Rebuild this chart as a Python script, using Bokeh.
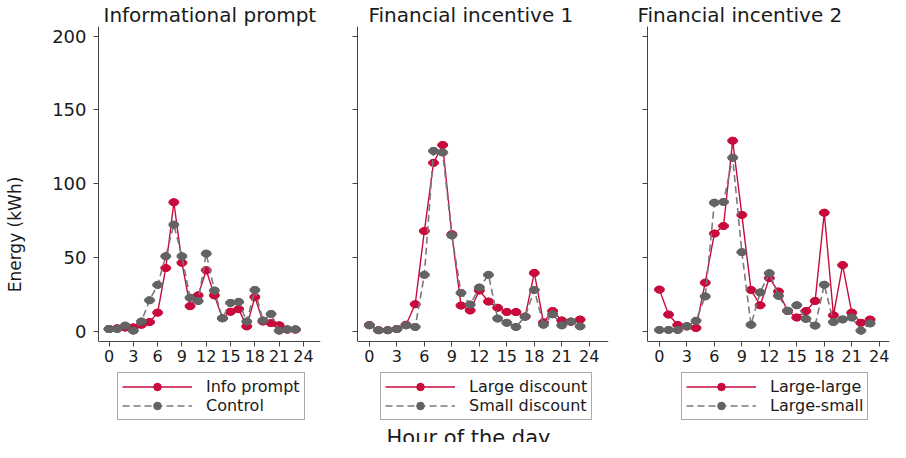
from bokeh.plotting import figure
from bokeh.layouts import row
from bokeh.models import Range1d, FixedTicker, Legend, LegendItem, Label
from bokeh.embed import file_html
from bokeh.resources import INLINE

# ---------------- data ----------------
hours = list(range(24))

info_prompt = [1.5, 2.0, 2.5, 2.6, 4.4, 6.2, 12.6, 42.8, 87.4, 46.4, 17.0, 24.3,
               41.3, 24.3, 8.8, 13.2, 15.0, 3.3, 23.2, 6.6, 5.5, 4.0, 1.1, 1.1]
control = [1.5, 1.5, 3.8, 0.4, 6.6, 21.0, 31.4, 50.8, 72.2, 50.8, 22.7, 20.5,
           52.6, 27.6, 8.8, 19.2, 19.9, 6.6, 28.0, 7.3, 11.7, 0.4, 1.3, 1.3]

large_discount = [4.2, 0.7, 0.7, 1.5, 4.4, 18.3, 67.9, 114.1, 126.2, 65.7, 17.4, 14.1,
                  27.6, 20.1, 15.9, 13.0, 13.0, 9.9, 39.5, 6.0, 13.7, 7.3, 6.4, 7.9]
small_discount = [4.0, 0.7, 0.7, 1.5, 4.0, 2.9, 38.2, 122.2, 121.1, 64.9, 26.0, 18.1,
                  29.6, 38.2, 8.6, 5.7, 2.9, 9.9, 28.0, 4.4, 11.5, 4.0, 6.6, 3.3]

large_large = [28.2, 11.3, 4.2, 3.2, 2.2, 32.9, 66.2, 71.3, 129.1, 78.8, 28.0, 17.6,
               36.0, 26.9, 13.7, 9.3, 13.7, 20.5, 80.3, 10.8, 44.8, 12.6, 5.7, 7.9]
large_small = [0.9, 0.9, 0.9, 3.5, 7.1, 23.6, 87.1, 87.6, 117.6, 53.6, 4.4, 26.3,
               39.3, 24.0, 13.9, 17.6, 8.4, 3.8, 31.5, 6.2, 8.0, 9.3, 0.4, 5.3]

x_ticks = [0, 3, 6, 9, 12, 15, 18, 21, 24]
y_ticks = [0, 50, 100, 150, 200]
panel_titles = ["Informational prompt", "Financial incentive 1", "Financial incentive 2"]
series_names = [("Info prompt", "Control"),
                ("Large discount", "Small discount"),
                ("Large-large", "Large-small")]
y_title = "Energy (kWh)"
x_title = "Hour of the day"

# ---------------- style ----------------
FONT = "DejaVu Sans"
RED = "#c80a3c"
GREY = "#636363"
GREY_LINE = "#7a7a7a"
AXIS = "#444444"
TXT = "#1a1a1a"
HEIGHT = 442
Y_LOW, Y_HIGH = -75.4, 206.5   # lower part of the frame holds legend / x title
X_AXIS_AT = -7


def make_panel(title, s_a, s_b, names, width, bl, br, x_end, title_offset,
               legend_x, first):
    p = figure(width=width, height=HEIGHT,
               x_range=Range1d(-1.3, x_end), y_range=Range1d(Y_LOW, Y_HIGH),
               output_backend="svg", toolbar_location=None,
               min_border_left=bl, min_border_right=br,
               min_border_top=25, min_border_bottom=0)
    p.outline_line_color = None
    p.xgrid.grid_line_color = None
    p.ygrid.grid_line_color = None

    # title
    p.title.text = title
    p.title.align = "left"
    p.title.offset = title_offset
    p.title.standoff = 0
    p.title.text_font = FONT
    p.title.text_font_size = "20px"
    p.title.text_font_style = "normal"
    p.title.text_color = TXT

    # axes
    for ax in (p.xaxis[0], p.yaxis[0]):
        ax.axis_line_color = AXIS
        ax.axis_line_width = 1
        ax.major_tick_line_color = AXIS
        ax.major_tick_in = 0
        ax.major_tick_out = 5
        ax.minor_tick_line_color = None
        ax.major_label_text_font = FONT
        ax.major_label_text_color = TXT
    p.xaxis.ticker = FixedTicker(ticks=x_ticks)
    p.xaxis.fixed_location = X_AXIS_AT
    p.xaxis.major_label_text_font_size = "16px"
    p.xaxis.major_label_standoff = 3
    p.yaxis.ticker = FixedTicker(ticks=y_ticks)
    p.yaxis.bounds = (X_AXIS_AT, Y_HIGH)
    p.yaxis.major_label_text_font_size = "18px"
    p.yaxis.major_label_standoff = 7
    if first:
        p.yaxis.axis_label = y_title
        p.yaxis.axis_label_text_font = FONT
        p.yaxis.axis_label_text_font_size = "17px"
        p.yaxis.axis_label_text_font_style = "normal"
        p.yaxis.axis_label_text_color = TXT
        p.yaxis.axis_label_standoff = 24
    else:
        p.yaxis.major_label_overrides = {t: "" for t in y_ticks}

    # series A (red, solid)
    la = p.line(hours, s_a, line_color=RED, line_width=1.4)
    ka = p.scatter(hours, s_a, marker="circle", size=7, fill_color=RED, line_color=RED)
    p.ellipse(x=hours, y=s_a, width=10, height=7, width_units="screen",
              height_units="screen", fill_color=RED, line_color=RED)
    # series B (grey, dashed)
    lb = p.line(hours, s_b, line_color=GREY_LINE, line_width=1.6, line_dash="7 4")
    kb = p.scatter(hours, s_b, marker="circle", size=7, fill_color=GREY, line_color=GREY)
    p.ellipse(x=hours, y=s_b, width=10, height=7, width_units="screen",
              height_units="screen", fill_color=GREY, line_color=GREY)

    legend = Legend(items=[LegendItem(label=names[0], renderers=[la, ka]),
                           LegendItem(label=names[1], renderers=[lb, kb])],
                    location=(legend_x, 22), orientation="vertical",
                    glyph_width=70, glyph_height=19, label_standoff=14,
                    padding=4, spacing=0,
                    border_line_color="#555555", border_line_width=1,
                    label_text_font=FONT, label_text_font_size="16px",
                    label_text_color=TXT, background_fill_color="white",
                    background_fill_alpha=1.0)
    p.add_layout(legend)
    return p


p1 = make_panel(panel_titles[0], info_prompt, control, series_names[0],
                332, 98, 12, 26.1, 5, 19, True)
p2 = make_panel(panel_titles[1], large_discount, small_discount, series_names[1],
                290, 25, 14, 26.1, 11, 23, False)
p3 = make_panel(panel_titles[2], large_large, large_small, series_names[2],
                268, 25, 1, 25.12, -10, 34, False)

p2.add_layout(Label(x=111, y=5, x_units="screen", y_units="screen",
                    text=x_title, text_align="center", text_baseline="alphabetic",
                    text_font=FONT, text_font_size="21px", text_color=TXT))

layout = row(p1, p2, p3)
open("out.html", "w").write(file_html(layout, INLINE))
